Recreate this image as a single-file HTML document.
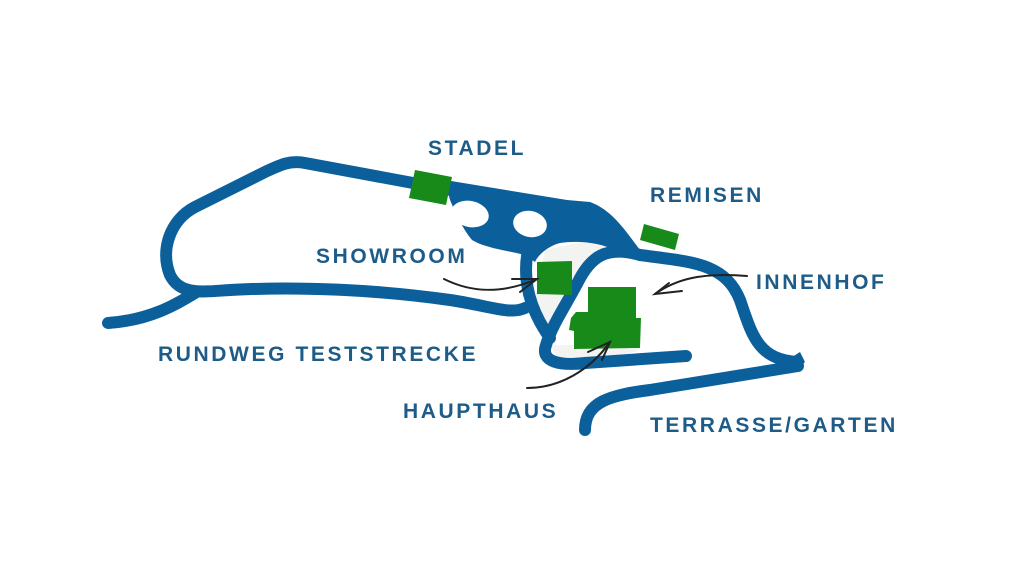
<!DOCTYPE html>
<html><head><meta charset="utf-8"><style>
html,body{margin:0;padding:0;background:#fff;}
svg{display:block}
text{font-family:"Liberation Sans",sans-serif;font-weight:bold;font-size:21px;fill:#1d5c88;letter-spacing:2.6px}
</style></head><body>
<svg width="1024" height="580" viewBox="0 0 1024 580">
<path d="M545,250 L600,238 L615,245 L590,265 L570,300 L548,330 L535,300 Z" fill="#f3f3f1"/>
<path d="M550,345 L610,345 L640,350 L610,360 L560,362 Z" fill="#f3f3f1"/>
<g fill="none" stroke="#0b609c" stroke-width="12" stroke-linecap="round" stroke-linejoin="round">
<path d="M560,210 L440,188 L305,163 C290,160 280,165 265,172 L195,207 C170,220 160,250 170,275 C180,295 200,292 230,290 C300,286 380,290 450,300 C490,306 510,315 525,308"/>
<path d="M108,323 C150,320 175,305 195,293"/>
<path d="M528,250 C522,280 530,310 550,338"/>
<path d="M640,255 C605,245 590,258 578,282 C566,305 552,325 546,345 C540,362 560,366 585,363 L686,356"/>
<path d="M640,255 C690,262 725,262 740,300 C752,335 758,360 798,362"/>
<path d="M585,430 C585,402 610,395 650,390 L798,366"/>
</g>
<path d="M445,180 L567,200 L590,202 C612,210 625,230 640,250 L645,258 L615,250 C600,243 580,240 560,243 C548,246 538,255 535,262 L525,255 C505,250 485,248 472,240 C462,228 455,212 450,200 Z" fill="#0b609c"/>
<ellipse cx="470" cy="214" rx="19" ry="13" transform="rotate(12 470 214)" fill="#fff"/>
<ellipse cx="530" cy="224" rx="17" ry="13" transform="rotate(12 530 224)" fill="#fff"/>
<path d="M800,352 L805,362 L798,368 L775,368 Z" fill="#0b609c"/>
<g fill="#178a19">
<polygon points="415,170 452,177 446,205 409,198"/>
<polygon points="644,224 679,234 675,250 640,240"/>
<polygon points="537,262 572,261 572,295 537,294"/>
<polygon points="588,287 636,287 636,318 641,318 640,348 574,349 574,331 569,330 571,318 576,312 588,312"/>
</g>
<g fill="none" stroke="#222" stroke-width="2" stroke-linecap="round">
<path d="M444,279 C470,292 500,295 537,279"/>
<path d="M512,279 L537,279 L520,292"/>
<path d="M747,276 C700,272 675,280 655,294"/>
<path d="M669,283 L655,294 L682,291"/>
<path d="M527,388 C560,388 590,370 610,342"/>
<path d="M588,352 L610,342 L602,360"/>
</g>
<text x="428" y="155">STADEL</text>
<text x="650" y="202">REMISEN</text>
<text x="316" y="263">SHOWROOM</text>
<text x="756" y="289">INNENHOF</text>
<text x="158" y="361">RUNDWEG TESTSTRECKE</text>
<text x="403" y="418">HAUPTHAUS</text>
<text x="650" y="432">TERRASSE/GARTEN</text>
</svg>
</body></html>
